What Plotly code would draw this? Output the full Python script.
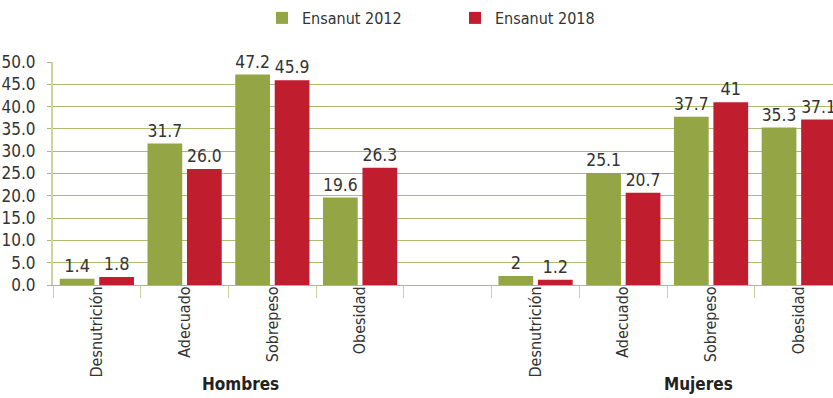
import plotly.graph_objects as go

# Nutritional status categories and survey results (%)
categories = ["Desnutrición", "Adecuado", "Sobrepeso", "Obesidad"]
groups = ["Hombres", "Mujeres"]
series_names = ["Ensanut 2012", "Ensanut 2018"]

hombres_2012 = [1.4, 31.7, 47.2, 19.6]
hombres_2018 = [1.8, 26.0, 45.9, 26.3]
mujeres_2012 = [2, 25.1, 37.7, 35.3]
mujeres_2018 = [1.2, 20.7, 41, 37.1]

y_ticks = [0, 5, 10, 15, 20, 25, 30, 35, 40, 45, 50]

GREEN = "#94a545"
RED = "#c01e2f"
GRID = "#adba6f"
AXIS = "#ccd59f"
TEXT = "#333333"
FONT = "Liberation Sans Narrow, DejaVu Sans Condensed, Arial Narrow, sans-serif"

L, T, W, H = 53, 62, 780, 223

# Category ids: men, an empty spacer, then women
ids_h = [f"H|{c}" for c in categories]
ids_m = [f"M|{c}" for c in categories]
spacer = "gap"
x_ids = ids_h + [spacer] + ids_m
x_text = categories + [""] + categories

def fmt_h(v):
    return f"{v:.1f}"

def fmt_m(v):
    return f"{v:g}"

fig = go.Figure()
for name, color, h_vals, m_vals in [
    (series_names[0], GREEN, hombres_2012, mujeres_2012),
    (series_names[1], RED, hombres_2018, mujeres_2018),
]:
    fig.add_trace(go.Bar(
        name=name,
        x=ids_h + ids_m,
        y=h_vals + m_vals,
        text=[fmt_h(v) for v in h_vals] + [fmt_m(v) for v in m_vals],
        textposition="outside",
        textfont=dict(size=18, color=TEXT, family=FONT),
        marker=dict(color=color, line=dict(width=0)),
        cliponaxis=False,
    ))

fig.update_layout(
    width=833, height=398,
    margin=dict(l=L, r=0, t=T, b=398 - T - H, autoexpand=False),
    paper_bgcolor="white", plot_bgcolor="white",
    font=dict(family=FONT, size=17, color=TEXT),
    barmode="group", bargap=0.1, bargroupgap=0.12,
    showlegend=True,
    legend=dict(
        orientation="h", x=(262 - L) / W, xanchor="left",
        y=(T + H - 18) / H, yanchor="middle",
        font=dict(size=16, color=TEXT, family=FONT),
        entrywidth=148, entrywidthmode="pixels",
        bgcolor="rgba(0,0,0,0)",
    ),
    xaxis=dict(
        type="category", categoryorder="array", categoryarray=x_ids,
        tickvals=x_ids, ticktext=x_text,
        range=[-0.5, 8.39], automargin=False,
        tickangle=-90, tickson="boundaries",
        ticks="outside", ticklen=12, tickcolor=AXIS, tickwidth=1,
        ticklabelstandoff=-6,
        showgrid=False, showline=True, linecolor=GRID, linewidth=1,
        tickfont=dict(size=16, color=TEXT, family=FONT),
    ),
    yaxis=dict(
        range=[0, 50], tickvals=y_ticks, tickformat=".1f",
        automargin=False,
        showgrid=True, gridcolor=GRID, gridwidth=1,
        showline=True, linecolor=AXIS, linewidth=2,
        ticks="outside", ticklen=4, tickcolor=GRID,
        ticklabelstandoff=8, zeroline=False,
        tickfont=dict(size=17, color=TEXT, family=FONT),
    ),
)

# Group labels beneath the category labels
for label, xpos in [(groups[0], 240), (groups[1], 698)]:
    fig.add_annotation(
        text=f"<b>{label}</b>", xref="paper", yref="paper",
        x=(xpos - L) / W, y=-(384 - T - H) / H, showarrow=False,
        xanchor="center", yanchor="middle",
        font=dict(size=17, color="#222222", family=FONT),
    )

fig.write_html("out.html")
